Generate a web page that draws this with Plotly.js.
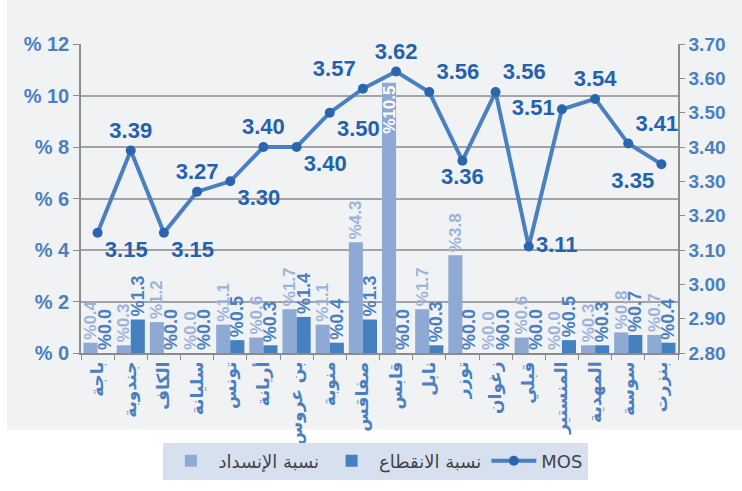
<!DOCTYPE html>
<html>
<head>
<meta charset="utf-8">
<script src="https://cdn.plot.ly/plotly-3.0.1.min.js"></script>
<style>
  html, body { margin: 0; padding: 0; background: #ffffff; }
  #chart { width: 742px; height: 491px; }
</style>
</head>
<body>
<div id="chart"></div>
<script>
const regions = ["باجة", "جندوبة", "الكاف", "سليانة", "تونس", "أريانة", "بن عروس", "منوبة", "صفاقس",
    "قابس", "نابل", "توزر", "زغوان", "قبلي", "المنستير", "المهدية", "سوسة", "بنزرت"];
const congestion = [0.4, 0.3, 1.2, 0.0, 1.1, 0.6, 1.7, 1.1, 4.3, 10.5, 1.7, 3.8, 0.0, 0.6, 0.0, 0.3, 0.8, 0.7];
const dropout = [0.0, 1.3, 0.0, 0.0, 0.5, 0.3, 1.4, 0.4, 1.3, 0.0, 0.3, 0.0, 0.0, 0.0, 0.5, 0.3, 0.7, 0.4];
const mos = [3.15, 3.39, 3.15, 3.27, 3.30, 3.40, 3.40, 3.50, 3.57, 3.62, 3.56, 3.36, 3.56, 3.11, 3.51, 3.54, 3.41, 3.35];
const mosLabelPos = ["bottom right", "top center", "bottom right", "top center", "bottom right", "top center",
    "bottom right", "bottom right", "top left", "top center", "top right", "bottom center", "top right",
    "middle right", "middle left", "top center", "top right", "bottom left"];

const FONT = "Arial, 'Liberation Sans', 'DejaVu Sans', sans-serif";
const AR_FONT = "'DejaVu Sans', Arial, sans-serif";
const BLUE = "#4a80c0";
const LIGHT_TXT = "#9cb4da";

const pct = v => "%" + v.toFixed(1);
// tall bar (above 10) gets its label inside, like the original
const congPos = congestion.map(v => v > 10 ? "inside" : "outside");

const traces = [
    {
        x: regions,
        y: congestion,
        name: "نسبة الإنسداد",
        type: "bar",
        marker: {color: "#8eaad4"},
        text: congestion.map(pct),
        textposition: congPos,
        insidetextanchor: "end",
        textangle: -90,
        constraintext: "none",
        cliponaxis: false,
        textfont: {family: FONT, size: 17, weight: "bold"},
        outsidetextfont: {family: FONT, size: 17, color: LIGHT_TXT, weight: "bold"},
        insidetextfont: {family: FONT, size: 17, color: "#ffffff", weight: "bold"},
        hoverinfo: "x+y"
    },
    {
        x: regions,
        y: dropout,
        name: "نسبة الانقطاع",
        type: "bar",
        marker: {color: "#4580c0"},
        text: dropout.map(pct),
        textposition: "outside",
        textangle: -90,
        constraintext: "none",
        cliponaxis: false,
        textfont: {family: FONT, size: 18, color: BLUE, weight: "bold"},
        hoverinfo: "x+y"
    },
    {
        x: regions,
        y: mos,
        name: "MOS",
        type: "scatter",
        mode: "lines+markers+text",
        yaxis: "y2",
        line: {color: BLUE, width: 4},
        marker: {color: "#2a66ae", size: 10},
        text: mos.map(v => v.toFixed(2)),
        textposition: mosLabelPos,
        cliponaxis: false,
        textfont: {family: FONT, size: 22, color: "#2362ad", weight: "bold"}
    }
];

const layout = {
    width: 742,
    height: 491,
    margin: {t: 44, r: 64, b: 136, l: 81},
    paper_bgcolor: "#ffffff",
    plot_bgcolor: "#f1f2f4",
    font: {family: FONT, color: BLUE},
    showlegend: true,
    barmode: "group",
    bargap: 0.15,
    bargroupgap: 0,
    xaxis: {
        type: "category",
        range: [-0.5, regions.length - 0.5],
        autorange: false,
        tickangle: -90,
        tickson: "boundaries",
        ticks: "outside",
        ticklen: 5,
        tickcolor: "#8c8c8c",
        showline: true,
        linecolor: "#8c8c8c",
        linewidth: 1.5,
        showgrid: false,
        tickfont: {family: AR_FONT, size: 17, color: BLUE, weight: "bold"}
    },
    yaxis: {
        range: [0, 12],
        autorange: false,
        dtick: 2,
        tickprefix: "% ",
        ticks: "outside",
        ticklen: 6,
        tickcolor: "#8c8c8c",
        showline: true,
        linecolor: "#8c8c8c",
        linewidth: 1.5,
        gridcolor: "#a3a3a3",
        gridwidth: 1.5,
        zeroline: false,
        tickfont: {family: FONT, size: 20, color: BLUE, weight: "bold"}
    },
    yaxis2: {
        overlaying: "y",
        side: "right",
        range: [2.8, 3.7],
        autorange: false,
        dtick: 0.1,
        tickformat: ".2f",
        ticks: "outside",
        ticklen: 5,
        tickcolor: "#8c8c8c",
        showline: true,
        linecolor: "#8c8c8c",
        linewidth: 1.5,
        showgrid: false,
        zeroline: false,
        tickfont: {family: FONT, size: 19, color: BLUE, weight: "bold"}
    },
    legend: {
        orientation: "h",
        x: 0.494,
        xanchor: "center",
        y: -0.29,
        yanchor: "top",
        bgcolor: "#d6e0ef",
        font: {family: AR_FONT, size: 18, color: "#444444"},
        itemwidth: 45,
        traceorder: "normal"
    },
    shapes: [{
        type: "rect",
        xref: "paper",
        yref: "paper",
        x0: -0.124, x1: 1.11,
        y0: -0.2476, y1: 1.15,
        fillcolor: "#f1f2f4",
        line: {width: 0},
        layer: "below"
    }]
};

Plotly.newPlot("chart", traces, layout, {displayModeBar: false});
</script>
</body>
</html>
